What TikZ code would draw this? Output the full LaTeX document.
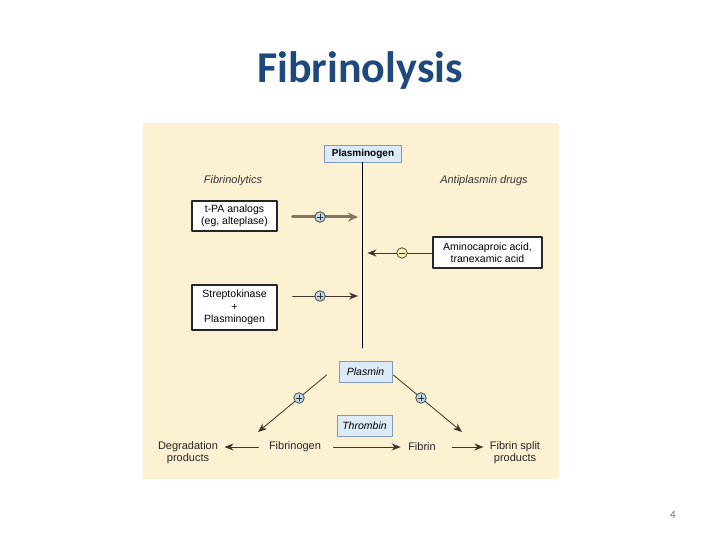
\documentclass[tikz,border=0pt]{standalone}
\usepackage{fontspec}
\setmainfont{Liberation Sans}
\newfontfamily\slidefont{Carlito}
\usepackage{xcolor}
\usetikzlibrary{arrows.meta,calc,positioning}
\definecolor{slidetitle}{HTML}{1F497D}
\definecolor{panelbg}{HTML}{FDF1D3}
\definecolor{sitefill}{HTML}{DCEBF7}
\definecolor{siteline}{HTML}{7F9AB5}
\definecolor{flowdark}{HTML}{3F3426}
\definecolor{flowthick}{HTML}{857660}
\definecolor{plusfill}{HTML}{BCDCEC}
\definecolor{minusfill}{HTML}{FFF4B8}
\tikzset{
every picture/.style={line cap=round,line join=round},
drug box/.style={
  draw=black!85,
  fill=white,
  line width=1.1pt,
  align=center,
  inner sep=2pt,
  font=\fontsize{10.5}{11.5}\selectfont
},
site box/.style={
  draw=siteline,
  fill=sitefill,
  line width=0.8pt,
  inner sep=2pt,
  font=\fontsize{10.5}{11}\selectfont
},
fig label/.style={font=\fontsize{11}{12}\selectfont, text=black!85, align=center},
fig head/.style={font=\fontsize{11}{12}\selectfont\itshape, text=black!80},
fig flow/.style={
  draw=flowdark,
  -{Stealth[length=9pt,width=7pt]},
  line width=0.8pt
},
thick flow/.style={
  draw=flowthick,
  -{Stealth[length=10pt,width=9pt]},
  line width=3pt
},
sign mark/.style={
  circle,
  draw=black!80,
  line width=0.7pt,
  minimum size=10.5pt,
  inner sep=0pt
},
plus sign/.style={
  sign mark,
  fill=plusfill,
  path picture={
    \draw[line width=0.7pt] ([xshift=-3pt]path picture bounding box.center) -- ([xshift=3pt]path picture bounding box.center);
    \draw[line width=0.7pt] ([yshift=-3pt]path picture bounding box.center) -- ([yshift=3pt]path picture bounding box.center);
  }
},
minus sign/.style={
  sign mark,
  fill=minusfill,
  path picture={
    \draw[line width=0.8pt] ([xshift=-3pt]path picture bounding box.center) -- ([xshift=3pt]path picture bounding box.center);
  }
}
}
\begin{document}
\begin{tikzpicture}[x=1pt,y=-1pt]
\useasboundingbox[fill=white] (0,0) rectangle (720,540);
% slide title and page number
\node[font=\slidefont\fontsize{44}{48}\selectfont\bfseries, text=slidetitle, anchor=base] (title) at (360,83) {Fibrinolysis};
\node[font=\slidefont\fontsize{11}{12}\selectfont, text=black!55] (pagenum) at (673,515) {4};
% figure panel
\fill[panelbg] (143,123) rectangle (559,479);
\node[site box, minimum width=77pt, minimum height=17pt, font=\fontsize{10}{11}\selectfont\bfseries] (plasminogen) at (363,153.5) {Plasminogen};
\coordinate (axisend) at (362.7,348);
\draw[line width=0.9pt] (plasminogen.south -| axisend) -- (axisend);
\node[fig head] (lythead) at (233,181) {Fibrinolytics};
\node[fig head] (antihead) at (484,181) {Antiplasmin drugs};
% drugs acting on the axis
\node[drug box, minimum width=85pt, minimum height=30pt] (tpa) at (234.5,216) {t-PA analogs\\(eg, alteplase)};
\node[drug box, minimum width=109pt, minimum height=31pt] (amino) at (487.5,252.5) {Aminocaproic acid,\\tranexamic acid};
\node[drug box, minimum width=85pt, minimum height=45pt, font=\fontsize{10.5}{12.5}\selectfont] (strepto) at (234.5,307.5) {Streptokinase\\+\\Plasminogen};
\coordinate (tpahit) at (362.7,217);
\coordinate (aminohit) at (362.7,253);
\coordinate (streptohit) at (362.7,296);
\draw[thick flow, shorten <=15pt, shorten >=4.7pt] (tpa.east |- tpahit) -- (tpahit);
\draw[fig flow, shorten >=4.7pt] (amino.west |- aminohit) -- (aminohit);
\draw[fig flow, shorten <=15pt, shorten >=4.7pt] (strepto.east |- streptohit) -- (streptohit);
\node[plus sign] (tpasign) at (320,217) {};
\node[minus sign] (aminosign) at (402,253) {};
\node[plus sign] (streptosign) at (320,296) {};
% plasmin and clot
\node[site box, minimum width=53pt, minimum height=21pt, font=\fontsize{10.5}{11}\selectfont\itshape] (plasmin) at (365.5,372) {Plasmin};
\node[site box, minimum width=55pt, minimum height=21pt, font=\fontsize{10.5}{11}\selectfont\itshape] (thrombin) at (364.5,426) {Thrombin};
\node[fig label] (degrad) at (188,453) {Degradation\\products};
\node[fig label] (fibrinogen) at (295,447) {Fibrinogen};
\node[fig label] (fibrin) at (422,447) {Fibrin};
\node[fig label] (split) at (515,453) {Fibrin split\\products};
\draw[fig flow, shorten <=7pt, shorten >=3pt] (fibrinogen.west) -- (fibrinogen.west -| degrad.east);
\draw[fig flow, shorten <=9pt, shorten >=4pt] (fibrinogen.east) -- (fibrin.west);
\draw[fig flow, shorten <=13pt, shorten >=3pt] (fibrin.east) -- (fibrin.east -| split.west);
\draw[fig flow] ([shift={(-12pt,-3pt)}]plasmin.west) -- ([shift={(-37pt,15pt)}]fibrinogen.center);
\draw[fig flow] ([shift={(1pt,-3pt)}]plasmin.east) -- ([shift={(40pt,15pt)}]fibrin.center);
\node[plus sign] (degsign) at (299,398) {};
\node[plus sign] (splitsign) at (421,398) {};
\end{tikzpicture}
\end{document}
